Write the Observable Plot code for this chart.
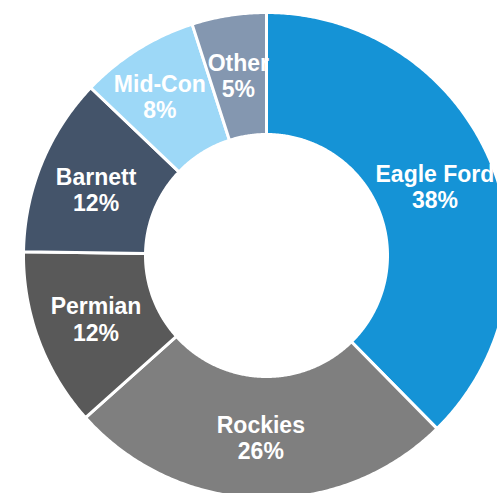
<!DOCTYPE html>
<html>
<head>
<meta charset="utf-8">
<script src="https://cdn.jsdelivr.net/npm/d3@7"></script>
<script src="https://cdn.jsdelivr.net/npm/@observablehq/plot@0.6"></script>
<style>
  html, body { margin: 0; padding: 0; background: #fff; overflow: hidden; }
  svg { display: block; }
</style>
</head>
<body>
<div id="chart"></div>
<script>
const categories = ["Eagle Ford", "Rockies", "Permian", "Barnett", "Mid-Con", "Other"];
const values = [38, 26, 12, 12, 8, 5];
const colors = ["#1593D6", "#7F7F7F", "#595959", "#44546A", "#9DD8F7", "#8497B0"];

const W = 497, H = 493;
const cx = 266, cy = 255;
const R = 243, r = 121;
// small manual label nudges (pixels), as in the original slide
const nudge = {"Mid-Con": [-10, -5], "Barnett": [-2, 3]};

const data = categories.map((c, i) => ({label: c, value: values[i]}));
const arcs = d3.pie().value(d => d.value).sort(null)(data);

// polygon points for each slice (data units = pixels relative to centre, y up)
const pts = [];
for (const a of arcs) {
  const n = Math.max(8, Math.ceil((a.endAngle - a.startAngle) / (Math.PI / 360)));
  for (let k = 0; k <= n; k++) {
    const t = a.startAngle + (a.endAngle - a.startAngle) * k / n;
    pts.push({label: a.data.label, x: R * Math.sin(t), y: R * Math.cos(t)});
  }
  for (let k = n; k >= 0; k--) {
    const t = a.startAngle + (a.endAngle - a.startAngle) * k / n;
    pts.push({label: a.data.label, x: r * Math.sin(t), y: r * Math.cos(t)});
  }
}

const rl = (R + r) / 2;
const labels = arcs.map(a => {
  const m = (a.startAngle + a.endAngle) / 2;
  const [nx, ny] = nudge[a.data.label] || [0, 0];
  return {label: a.data.label, text: `${a.data.label}\n${a.data.value}%`,
          x: rl * Math.sin(m) + nx, y: rl * Math.cos(m) - ny};
});

const chart = Plot.plot({
  width: W,
  height: H,
  margin: 0,
  x: {domain: [-cx, W - cx], range: [0, W], axis: null},
  y: {domain: [-(H - cy), cy], range: [H, 0], axis: null},
  color: {domain: categories, range: colors},
  style: {background: "white", overflow: "hidden"},
  marks: [
    Plot.line(pts, {x: "x", y: "y", z: "label", fill: "label", stroke: "white", strokeWidth: 3, curve: "linear-closed"}),
    Plot.text(labels, {x: "x", y: "y", text: "text", fill: "white", fontSize: 23, fontWeight: "bold", fontFamily: "Arial, 'Liberation Sans', sans-serif", lineHeight: 1.15})
  ]
});
document.getElementById("chart").appendChild(chart);
</script>
</body>
</html>
